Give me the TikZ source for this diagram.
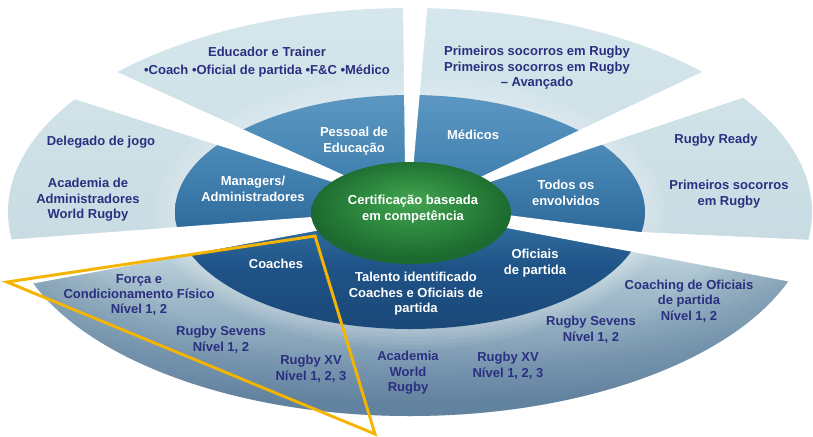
\documentclass[tikz,border=0pt]{standalone}
\usepackage{fontspec}
\setmainfont{Liberation Sans}

\definecolor{ringtop}{HTML}{D5E7EC}
\definecolor{ringlight}{HTML}{C9DCE3}
\definecolor{ringsoft}{HTML}{A6BFCD}
\definecolor{ringmid}{HTML}{8BA8BD}
\definecolor{ringdeep}{HTML}{7593AE}
\definecolor{ringrim}{HTML}{62839F}
\definecolor{midtop}{HTML}{5C97C2}
\definecolor{midupper}{HTML}{4584B2}
\definecolor{midmid}{HTML}{306C9D}
\definecolor{midlower}{HTML}{1F5387}
\definecolor{midlow}{HTML}{1A4878}
\definecolor{greenhi}{HTML}{44A452}
\definecolor{greenmid}{HTML}{2E8A3F}
\definecolor{greenrim}{HTML}{1C6A2F}
\definecolor{inknavy}{HTML}{2B2F80}
\definecolor{goldline}{HTML}{F4B400}

\pgfdeclareverticalshading{outerring}{100bp}{color(0bp)=(ringrim); color(25bp)=(ringrim); color(30bp)=(ringdeep); color(35bp)=(ringmid); color(41bp)=(ringsoft); color(47bp)=(ringlight); color(75bp)=(ringtop); color(100bp)=(ringtop)}
\pgfdeclareverticalshading{midring}{100bp}{color(0bp)=(midlow); color(25bp)=(midlow); color(38bp)=(midlower); color(47bp)=(midmid); color(60bp)=(midupper); color(75bp)=(midtop); color(100bp)=(midtop)}
\pgfdeclareradialshading{greencore}{\pgfpoint{0bp}{6bp}}{color(0bp)=(greenhi); color(12bp)=(greenmid); color(25bp)=(greenrim); color(50bp)=(greenrim)}

\begin{document}
\begin{tikzpicture}[x=0.75pt, y=-0.75pt,
		outer label/.style={text=inknavy, font=\bfseries\fontsize{9.75}{11.6}\selectfont, align=center},
		ring label/.style={text=white, font=\bfseries\fontsize{9.75}{11.6}\selectfont, align=center},
		wedge gap/.style={fill=white, draw=none}
		]
	\useasboundingbox (0,0) rectangle (813,436);
	\coordinate (c) at (410,212);

	% outer ring, darker towards the lower rim
	\path[shading=outerring] (c) ellipse [x radius=402, y radius=204];
	\begin{scope}
		\clip (0,262) rectangle (813,436);
		\foreach \k [evaluate=\k as \rx using 402-11*\k, evaluate=\k as \ry using 204-6.5*\k] in {1,...,8}
			\fill[ringrim, opacity=0.06, even odd rule] (c) ellipse [x radius=402, y radius=204] (c) ellipse [x radius=\rx, y radius=\ry];
	\end{scope}

	% soft glow round the middle ring
	\foreach \k in {1,...,5}
		\fill[white, opacity=0.06] (c) ellipse [x radius={235+4*\k}, y radius={117+4*\k}];
	\path[shading=midring] (c) ellipse [x radius=235, y radius=117];

	% white cuts between the wedges
	\fill[wedge gap] (403,0) -- (428,0) -- (413,170) -- (405,170) -- cycle;
	\fill[wedge gap] (60,46) -- (350,178) -- (345,186) -- (20,81.5) -- cycle;
	\fill[wedge gap] (0,240.4) -- (325,216) -- (325,229.2) -- (0,289.6) -- cycle;
	\fill[wedge gap] (495,213.4) -- (640,232) -- (813,240) -- (813,286) -- (495,225.8) -- cycle;
	\fill[wedge gap] (470,182) -- (760,44.6) -- (800,78.7) -- (478,186) -- cycle;

	% centre
	\path[shading=greencore] (411,213) ellipse [x radius=100, y radius=51];
	\node[ring label] (core) at (413,209) {Certificação baseada\\em competência};

	% middle ring
	\node[ring label] (edustaff) at (354,141) {Pessoal de\\Educação};
	\node[ring label] (medics) at (473,135) {Médicos};
	\node[ring label] (managers) at (253,189) {Managers/\\Administradores};
	\node[ring label] (everyone) at (566,193) {Todos os\\envolvidos};
	\node[ring label] (coaches) at (276,264) {Coaches};
	\node[ring label] (talent) at (416,294) {Talento identificado\\Coaches e Oficiais de\\partida};
	\node[ring label] (officials) at (535,263) {Oficiais\\de partida};

	% outer ring
	\node[outer label] (educator) at (267,62) {Educador e Trainer\\[2pt]•Coach •Oficial de partida •F\&C •Médico};
	\node[outer label] (firstaid) at (537,68) {Primeiros socorros em Rugby\\Primeiros socorros em Rugby\\– Avançado};
	\node[outer label] (delegate) at (101,142) {Delegado de jogo};
	\node[outer label] (adminacad) at (88,200) {Academia de\\Administradores\\World Rugby};
	\node[outer label] (ready) at (716,140) {Rugby Ready};
	\node[outer label] (firstaidr) at (729,194) {Primeiros socorros\\em Rugby};
	\node[outer label] (strength) at (139,295) {Força e\\Condicionamento Físico\\Nível 1, 2};
	\node[outer label] (sevensl) at (221,340) {Rugby Sevens\\Nível 1, 2};
	\node[outer label] (fifteenl) at (311,369) {Rugby XV\\Nível 1, 2, 3};
	\node[outer label] (academy) at (408,373) {Academia\\World\\Rugby};
	\node[outer label] (fifteenr) at (508,366) {Rugby XV\\Nível 1, 2, 3};
	\node[outer label] (sevensr) at (591,330) {Rugby Sevens\\Nível 1, 2};
	\node[outer label] (refcoach) at (689,301) {Coaching de Oficiais\\de partida\\Nível 1, 2};

	% highlighted coaching pathway
	\coordinate (t1) at (7,282);
	\coordinate (t2) at (315,236);
	\coordinate (t3) at (375,434);
	\draw[goldline, line width=2.2pt] (t1) -- (t2) -- (t3) -- cycle;
\end{tikzpicture}
\end{document}
